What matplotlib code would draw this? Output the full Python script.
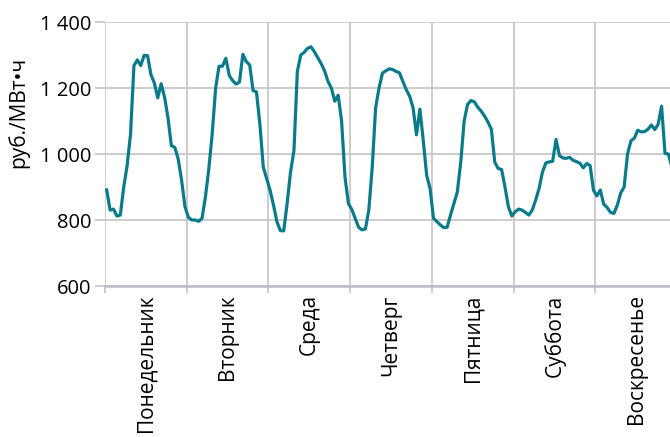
import numpy as np
import matplotlib
matplotlib.use("Agg")
import matplotlib.pyplot as plt

# hourly prices, rub/MWh, one week
mon = [891, 830, 833, 812, 815, 900, 965, 1060, 1268, 1285, 1268, 1299,
       1298, 1240, 1215, 1170, 1213, 1172, 1110, 1025, 1020, 985, 920, 840]
tue = [808, 800, 800, 796, 805, 870, 955, 1062, 1200, 1266, 1266, 1290,
       1238, 1222, 1212, 1218, 1302, 1280, 1270, 1192, 1188, 1090, 960, 925]
wed = [890, 845, 795, 768, 767, 850, 945, 1010, 1250, 1300, 1308, 1320,
       1325, 1310, 1292, 1274, 1252, 1220, 1200, 1160, 1178, 1100, 930, 850]
thu = [832, 805, 778, 770, 773, 830, 960, 1140, 1200, 1245, 1252, 1258,
       1256, 1250, 1246, 1220, 1195, 1175, 1140, 1058, 1136, 1040, 935, 895]
fri = [805, 795, 785, 777, 778, 815, 850, 885, 975, 1100, 1150, 1162,
       1158, 1142, 1130, 1115, 1097, 1075, 975, 956, 953, 900, 840, 812]
sat = [825, 833, 830, 823, 815, 830, 860, 895, 945, 973, 976, 978,
       1044, 995, 988, 987, 990, 981, 977, 972, 958, 971, 965, 890]
sun = [873, 891, 848, 838, 823, 820, 845, 882, 900, 1000, 1040, 1048,
       1072, 1067, 1068, 1075, 1088, 1074, 1090, 1145, 1002, 1000, 962, 945]

days = ["Понедельник", "Вторник", "Среда", "Четверг",
        "Пятница", "Суббота", "Воскресенье"]
yticks = [600, 800, 1000, 1200, 1400]
ytick_labels = ["600", "800", "1 000", "1 200", "1 400"]

prices = np.array(mon + tue + wed + thu + fri + sat + sun)
hours = np.arange(len(prices)) + 0.5

plt.rcParams['font.family'] = ['Open Sans', 'DejaVu Sans']

fig = plt.figure(figsize=(6.7, 4.37), dpi=100)
# right edge of the plot runs past the picture, as in the original
ax = fig.add_axes([105 / 670, 151 / 437, 571.9 / 670, 264 / 437])

grid_col = "#c8c8c8"
ax.plot(hours, prices, color="#0a7b8b", lw=2.3, solid_joinstyle="round", zorder=3)

ax.set_xlim(0, 168)
ax.set_ylim(600, 1400)

ax.set_xticks(np.arange(0, 169, 24))
ax.set_xticklabels([])
ax.set_xticks(np.arange(12, 168, 24), minor=True)
ax.set_xticklabels(days, minor=True, rotation=90, fontsize=15, va="top", ha="center")
ax.tick_params(axis="x", which="major", length=5, width=1.3, color=grid_col, direction="out")
ax.tick_params(axis="x", which="minor", length=0, pad=6)

ax.set_yticks(yticks)
ax.set_yticklabels(ytick_labels, fontsize=14.5)
ax.tick_params(axis="y", length=7, width=1.3, color=grid_col, pad=3)

ax.grid(True, which="major", color=grid_col, lw=1.3, zorder=0)
for s in ["top", "right", "left"]:
    ax.spines[s].set_visible(False)
ax.spines["bottom"].set_color("#b7bec6")
ax.spines["bottom"].set_linewidth(1.8)

fig.text(18 / 670, 1 - 112 / 437, "руб./МВт•ч", rotation=90, fontsize=15,
         ha="center", va="center")

fig.savefig("out.png", dpi=100)
